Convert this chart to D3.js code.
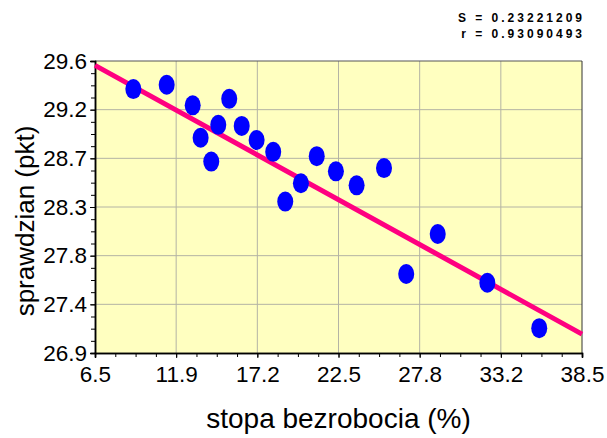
<!DOCTYPE html>
<html>
<head>
<meta charset="utf-8">
<script src="https://cdn.jsdelivr.net/npm/d3@7"></script>
<style>
  body { margin: 0; background: #fff; }
  text { font-family: "Liberation Sans", Arial, sans-serif; }
</style>
</head>
<body>
<svg id="chart" width="607" height="438"></svg>
<script>
// unemployment rate (%) vs. test score (pkt)
const unemployment = [9.02, 11.21, 12.92, 15.32, 14.60, 13.44, 16.14, 14.14, 17.12, 18.21,
                      21.07, 22.33, 20.03, 19.00, 23.69, 25.49, 29.02, 26.95, 32.28, 35.69]
const score = [29.34, 29.38, 29.19, 29.25, 29.01, 28.89, 29.00, 28.67, 28.87, 28.76,
               28.72, 28.58, 28.47, 28.30, 28.45, 28.61, 28.00, 27.63, 27.55, 27.13]

// fitted regression line endpoints
const fitX = [6.5, 38.5]
const fitY = [29.56, 27.075]

const xTicks = [6.5, 6.5 + 32 / 6, 6.5 + 64 / 6, 22.5, 6.5 + 128 / 6, 6.5 + 160 / 6, 38.5]
const xTickLabels = ['6.5', '11.9', '17.2', '22.5', '27.8', '33.2', '38.5']
const yTicks = [26.9, 27.35, 27.8, 28.25, 28.7, 29.15, 29.6]
const yTickLabels = ['26.9', '27.4', '27.8', '28.3', '28.7', '29.2', '29.6']

const stats = ['S = 0.23221209', 'r = 0.93090493']

const svg = d3.select('#chart')

const pLeft = 95, pRight = 582, pTop = 61, pBottom = 353

const x = d3.scaleLinear().domain([6.5, 38.5]).range([pLeft, pRight])
const y = d3.scaleLinear().domain([26.9, 29.6]).range([pBottom, pTop])

// plot background
svg.append('rect')
  .attr('x', pLeft).attr('y', pTop)
  .attr('width', pRight - pLeft).attr('height', pBottom - pTop)
  .attr('fill', '#ffffc0')

// grid
const grid = svg.append('g')
grid.selectAll('.gx')
  .data(xTicks.slice(1, -1))
  .join('line')
  .attr('x1', d => x(d)).attr('x2', d => x(d))
  .attr('y1', pTop).attr('y2', pBottom)
  .attr('stroke', '#b4b4a4').attr('stroke-width', 1)
grid.selectAll('.gy')
  .data(yTicks.slice(1, -1))
  .join('line')
  .attr('y1', d => y(d)).attr('y2', d => y(d))
  .attr('x1', pLeft).attr('x2', pRight)
  .attr('stroke', '#b4b4a4').attr('stroke-width', 1)

// frame
svg.append('line').attr('x1', pLeft).attr('x2', pRight).attr('y1', pTop).attr('y2', pTop)
  .attr('stroke', '#555').attr('stroke-width', 1)
svg.append('line').attr('x1', pRight).attr('x2', pRight).attr('y1', pTop).attr('y2', pBottom)
  .attr('stroke', '#333').attr('stroke-width', 1)

// minor ticks
const minorX = d3.range(0, 25).map(i => 6.5 + i * 32 / 24)
const minorY = d3.range(0, 25).map(i => 26.9 + i * 2.7 / 24)

const xAxis = svg.append('g').attr('transform', `translate(0,${pBottom})`)
xAxis.call(d3.axisBottom(x).tickValues(minorX).tickSize(4).tickFormat(''))
xAxis.append('g').call(d3.axisBottom(x).tickValues(xTicks).tickSize(5)
  .tickFormat((d, i) => xTickLabels[i]).tickPadding(8))

const yAxis = svg.append('g').attr('transform', `translate(${pLeft},0)`)
yAxis.call(d3.axisLeft(y).tickValues(minorY).tickSize(4).tickFormat(''))
yAxis.append('g').call(d3.axisLeft(y).tickValues(yTicks).tickSize(5)
  .tickFormat((d, i) => yTickLabels[i]).tickPadding(3))

svg.selectAll('.domain').attr('stroke', '#000').attr('stroke-width', 1.5)
svg.selectAll('.tick line').attr('stroke', '#000')
svg.selectAll('.tick text')
  .attr('font-family', '"Liberation Sans", Arial, sans-serif')
  .attr('font-size', 22.5).attr('fill', '#000')

// fitted line
svg.append('line')
  .attr('x1', x(fitX[0])).attr('y1', y(fitY[0]))
  .attr('x2', x(fitX[1])).attr('y2', y(fitY[1]))
  .attr('stroke', '#ff0080').attr('stroke-width', 5)

// points
svg.append('g').selectAll('ellipse')
  .data(unemployment)
  .join('ellipse')
  .attr('cx', d => x(d))
  .attr('cy', (d, i) => y(score[i]))
  .attr('rx', 8).attr('ry', 10)
  .attr('fill', '#0000ff')

// axis titles
svg.append('text')
  .attr('x', (pLeft + pRight) / 2).attr('y', 428)
  .attr('text-anchor', 'middle').attr('font-size', 28)
  .text('stopa bezrobocia (%)')

svg.append('text')
  .attr('transform', `translate(34,221) rotate(-90)`)
  .attr('text-anchor', 'middle').attr('font-size', 26)
  .text('sprawdzian (pkt)')

// stats
svg.append('g').selectAll('text')
  .data(stats)
  .join('text')
  .attr('x', 585).attr('y', (d, i) => 22 + i * 15.6)
  .attr('text-anchor', 'end')
  .attr('font-size', 12).attr('font-weight', 'bold')
  .attr('letter-spacing', 3)
  .text(d => d)
</script>
</body>
</html>
